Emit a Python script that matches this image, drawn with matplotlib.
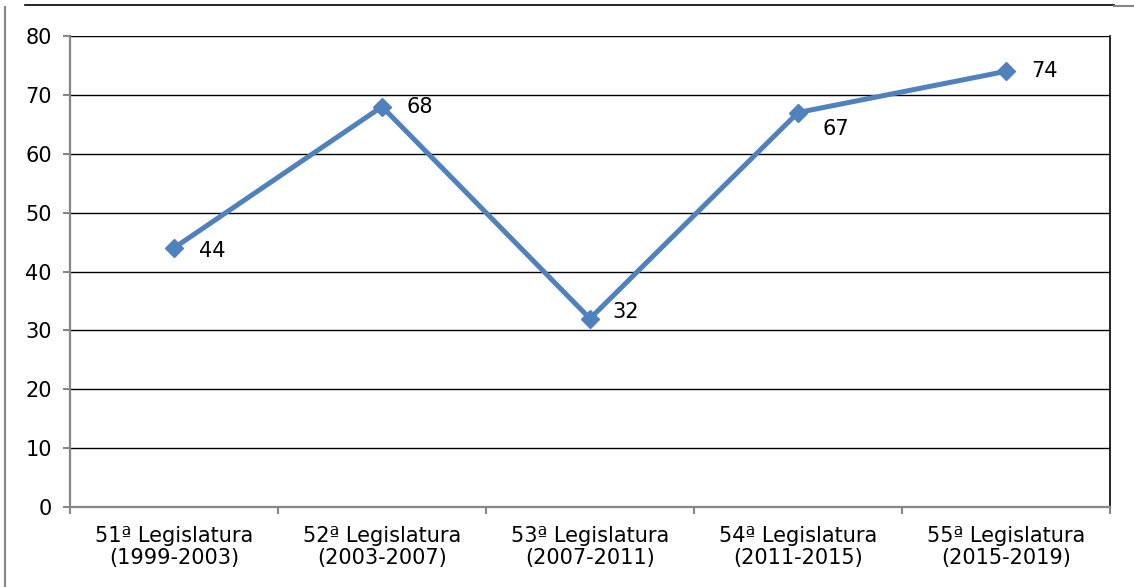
import matplotlib.pyplot as plt
from matplotlib.lines import Line2D

# Dados
categorias = ['51ª Legislatura\n(1999-2003)', '52ª Legislatura\n(2003-2007)',
              '53ª Legislatura\n(2007-2011)', '54ª Legislatura\n(2011-2015)',
              '55ª Legislatura\n(2015-2019)']
valores = [44, 68, 32, 67, 74]
yticks = [0, 10, 20, 30, 40, 50, 60, 70, 80]

# deslocamento dos rótulos (pontos), como no Excel
rot_dx = [18, 18, 16, 18, 18]
rot_dy = [-2, 0, 5, -12, 0]

cinza = '#868686'
azul = '#4F81BD'

fig = plt.figure(figsize=(11.34, 5.87), dpi=100)
ax = fig.add_axes([70/1134, 80/587, 1040/1134, 471/587])

x = list(range(len(valores)))
ax.plot(x, valores, color=azul, lw=3.6, marker='D', ms=9.5, zorder=3, clip_on=False)
for xi, v, dx, dy in zip(x, valores, rot_dx, rot_dy):
    ax.annotate(str(v), (xi, v), xytext=(dx, dy), textcoords='offset points',
                ha='left', va='center', fontsize=15)

ax.set_xlim(-0.5, len(valores) - 0.5)
ax.set_ylim(0, 80)
ax.set_yticks(yticks)
ax.yaxis.grid(True, color='black', lw=1.0)
ax.set_axisbelow(True)

ax.set_xticks(x)
ax.set_xticklabels(categorias, fontsize=15, linespacing=1.12)
ax.set_xticks([i - 0.5 for i in range(len(valores) + 1)], minor=True)
ax.tick_params(axis='x', which='major', length=0, pad=14)
ax.tick_params(axis='x', which='minor', length=5, width=1.5, color=cinza)
ax.tick_params(axis='y', length=5, width=1.5, color=cinza, labelsize=15, pad=8)

ax.spines['top'].set_visible(False)
ax.spines['right'].set_color('black')
ax.spines['right'].set_linewidth(1.2)
ax.spines['left'].set_color(cinza)
ax.spines['left'].set_linewidth(1.6)
ax.spines['bottom'].set_color(cinza)
ax.spines['bottom'].set_linewidth(1.6)

# moldura parcial da figura
W, H = 1134, 587
fig.add_artist(Line2D([25/W, 1114/W], [1 - 5/H, 1 - 5/H], color='black', lw=1.2, transform=fig.transFigure))
fig.add_artist(Line2D([1114/W, 1], [1 - 6/H, 1 - 6/H], color=cinza, lw=1.5, transform=fig.transFigure))
fig.add_artist(Line2D([5/W, 5/W], [0, 1 - 7/H], color=cinza, lw=1.5, transform=fig.transFigure))

fig.savefig('out.png', dpi=100)
